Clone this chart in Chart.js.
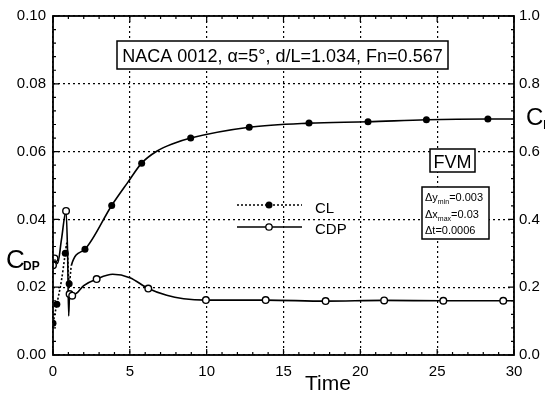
<!DOCTYPE html>
<html>
<head>
<meta charset="utf-8">
<script src="https://cdn.jsdelivr.net/npm/chart.js@4/dist/chart.umd.min.js"></script>
<style>
  body { margin: 0; background: #fff; }
  canvas { display: block; }
</style>
</head>
<body>
<canvas id="chart" width="545" height="397"></canvas>
<script>
// CL (right axis) - time, value, marker flag
const timeCL = [0, 0.25, 0.55, 0.8, 0.9, 1.05, 1.2, 2.08, 3.82, 4.88, 5.77, 6.75, 7.8, 8.96, 12.77, 16.66, 20.5, 24.3, 28.3, 30];
const valuesCL = [0.094, 0.15, 0.22, 0.30, 0.33, 0.21, 0.265, 0.312, 0.441, 0.51, 0.566, 0.601, 0.623, 0.64, 0.672, 0.684, 0.688, 0.694, 0.696, 0.696];
const markCL = [1, 1, 0, 1, 0, 1, 0, 1, 1, 0, 1, 0, 0, 1, 1, 1, 1, 1, 1, 0];

// CDP (left axis)
const timeCDP = [0, 0.1, 0.3, 0.55, 0.85, 0.95, 1.02, 1.08, 1.25, 1.6, 2.0, 2.84, 3.88, 5.0, 6.2, 7.4, 8.5, 9.95, 13.84, 17.74, 21.55, 25.4, 29.3, 30];
const valuesCDP = [0.0265, 0.0285, 0.027, 0.034, 0.0425, 0.030, 0.0115, 0.018, 0.0175, 0.0185, 0.0205, 0.0224, 0.0238, 0.0228, 0.0196, 0.0176, 0.0166, 0.0162, 0.0162, 0.0159, 0.0161, 0.016, 0.016, 0.016];
const markCDP = [1, 1, 0, 0, 1, 0, 0, 1, 1, 0, 0, 1, 0, 0, 1, 0, 0, 1, 1, 1, 1, 1, 1, 0];

const xTicks = [0, 5, 10, 15, 20, 25, 30];
const cdpTicks = [0, 0.02, 0.04, 0.06, 0.08, 0.10];
const clTicks = [0, 0.2, 0.4, 0.6, 0.8, 1.0];

const FONT = '"Liberation Sans", Arial, sans-serif';

const toPoints = (xs, ys) => xs.map((x, i) => ({ x: x, y: ys[i] }));

// annotations, frame and inward ticks
const decor = {
  id: 'decor',
  afterDraw(chart) {
    const ctx = chart.ctx;
    const a = chart.chartArea;
    const sx = chart.scales.x, sy = chart.scales.y;
    ctx.save();
    ctx.strokeStyle = '#000';
    ctx.fillStyle = '#000';
    ctx.setLineDash([]);
    ctx.lineWidth = 1.8;
    ctx.strokeRect(a.left, a.top, a.right - a.left, a.bottom - a.top);

    // inward ticks
    ctx.lineWidth = 1.2;
    for (let t = 0; t <= 30; t++) {
      const px = sx.getPixelForValue(t);
      const len = t % 5 === 0 ? 6 : 3;
      ctx.beginPath();
      ctx.moveTo(px, a.bottom); ctx.lineTo(px, a.bottom - len);
      ctx.moveTo(px, a.top); ctx.lineTo(px, a.top + len);
      ctx.stroke();
    }
    for (let k = 0; k <= 25; k++) {
      const py = sy.getPixelForValue(k * 0.004);
      const len = k % 5 === 0 ? 6 : 3;
      ctx.beginPath();
      ctx.moveTo(a.left, py); ctx.lineTo(a.left + len, py);
      ctx.moveTo(a.right, py); ctx.lineTo(a.right - len, py);
      ctx.stroke();
    }

    // title box
    ctx.lineWidth = 1.5;
    ctx.fillStyle = '#fff';
    ctx.fillRect(117, 41, 331, 28);
    ctx.strokeRect(117, 41, 331, 28);
    ctx.fillStyle = '#000';
    ctx.font = '18px ' + FONT;
    ctx.textAlign = 'center';
    ctx.textBaseline = 'alphabetic';
    ctx.fillText('NACA 0012, \u03b1=5\u00b0, d/L=1.034, Fn=0.567', 282.5, 62);

    // FVM box
    ctx.fillStyle = '#fff';
    ctx.fillRect(430, 149, 45, 23);
    ctx.strokeRect(430, 149, 45, 23);
    ctx.fillStyle = '#000';
    ctx.font = '18px ' + FONT;
    ctx.fillText('FVM', 452.5, 168);

    // parameter box
    ctx.fillStyle = '#fff';
    ctx.fillRect(422, 187, 67, 52);
    ctx.strokeRect(422, 187, 67, 52);
    ctx.fillStyle = '#000';
    ctx.textAlign = 'left';
    const param = (main, sub, rest, y) => {
      let x = 425;
      ctx.font = '11px ' + FONT;
      ctx.fillText(main, x, y);
      x += ctx.measureText(main).width;
      if (sub) {
        ctx.font = '7px ' + FONT;
        ctx.fillText(sub, x, y + 3);
        x += ctx.measureText(sub).width;
      }
      ctx.font = '11px ' + FONT;
      ctx.fillText(rest, x, y);
    };
    param('\u0394y', 'min', '=0.003', 201);
    param('\u0394x', 'max', '=0.03', 218);
    param('\u0394t', '', '=0.0006', 234);

    // legend
    ctx.lineWidth = 1.3;
    ctx.setLineDash([2, 2]);
    ctx.beginPath(); ctx.moveTo(237, 205); ctx.lineTo(302, 205); ctx.stroke();
    ctx.setLineDash([]);
    ctx.beginPath(); ctx.moveTo(237, 227); ctx.lineTo(302, 227); ctx.stroke();
    ctx.beginPath(); ctx.arc(269, 205, 3.5, 0, Math.PI * 2); ctx.fill();
    ctx.fillStyle = '#fff';
    ctx.beginPath(); ctx.arc(269, 227, 3.2, 0, Math.PI * 2); ctx.fill(); ctx.stroke();
    ctx.fillStyle = '#000';
    ctx.font = '15px ' + FONT;
    ctx.fillText('CL', 315, 213);
    ctx.fillText('CDP', 315, 234);

    // axis titles
    ctx.font = '21px ' + FONT;
    ctx.textAlign = 'center';
    ctx.fillText('Time', 328, 390);
    ctx.textAlign = 'left';
    ctx.font = '26px ' + FONT;
    ctx.fillText('C', 6, 268);
    ctx.font = 'bold 12px ' + FONT;
    ctx.fillText('DP', 23, 270);
    ctx.font = '24px ' + FONT;
    ctx.fillText('C', 526, 125);
    ctx.font = '12px ' + FONT;
    ctx.fillText('L', 543, 129);
    ctx.restore();
  }
};

new Chart(document.getElementById('chart'), {
  type: 'line',
  data: {
    datasets: [{
      label: 'CL',
      data: toPoints(timeCL, valuesCL),
      yAxisID: 'y2',
      borderColor: '#000',
      backgroundColor: '#000',
      borderWidth: 1.6,
      cubicInterpolationMode: 'monotone',
      pointRadius: markCL.map(m => m ? 3.5 : 0),
      pointBackgroundColor: '#000',
      pointBorderWidth: 0,
      segment: {
        borderDash: c => c.p0.parsed.x < 1.1 ? [2, 2] : []
      }
    }, {
      label: 'CDP',
      data: toPoints(timeCDP, valuesCDP),
      yAxisID: 'y',
      borderColor: '#000',
      backgroundColor: '#fff',
      borderWidth: 1.6,
      cubicInterpolationMode: 'monotone',
      pointRadius: markCDP.map(m => m ? 3.3 : 0),
      pointBackgroundColor: '#fff',
      pointBorderColor: '#000',
      pointBorderWidth: 1.4
    }]
  },
  options: {
    responsive: false,
    animation: false,
    layout: { padding: { top: 15, left: 0, right: 0, bottom: 0 } },
    plugins: { legend: { display: false }, tooltip: { enabled: false } },
    scales: {
      x: {
        type: 'linear', min: 0, max: 30,
        afterBuildTicks: s => { s.ticks = xTicks.map(v => ({ value: v })); },
        afterFit: s => { s.height = 42; },
        ticks: { color: '#000', padding: 8, font: { family: FONT, size: 15 }, callback: v => String(v) },
        grid: { color: '#000', lineWidth: 1.2, drawTicks: false },
        border: { display: false, dash: [2, 3] }
      },
      y: {
        position: 'left', min: 0, max: 0.1,
        afterBuildTicks: s => { s.ticks = cdpTicks.map(v => ({ value: v })); },
        afterFit: s => { s.width = 53; },
        ticks: { color: '#000', padding: 7, font: { family: FONT, size: 15 }, callback: v => v.toFixed(2) },
        grid: { color: '#000', lineWidth: 1.2, drawTicks: false },
        border: { display: false, dash: [2, 3] }
      },
      y2: {
        position: 'right', min: 0, max: 1,
        afterBuildTicks: s => { s.ticks = clTicks.map(v => ({ value: v })); },
        afterFit: s => { s.width = 31; },
        ticks: { color: '#000', padding: 5, font: { family: FONT, size: 15 }, callback: v => v.toFixed(1) },
        grid: { display: false, drawTicks: false },
        border: { display: false }
      }
    }
  },
  plugins: [decor]
});
</script>
</body>
</html>
